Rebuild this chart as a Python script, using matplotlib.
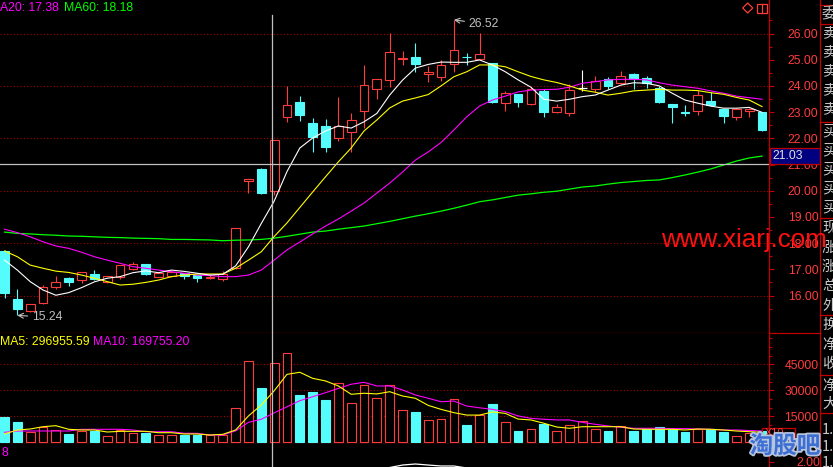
import numpy as np
import matplotlib
matplotlib.use("Agg")
import matplotlib.pyplot as plt
import matplotlib.transforms as mtransforms
import matplotlib.patheffects as pe
from matplotlib import font_manager
from matplotlib.patches import Rectangle, Polygon
from matplotlib.lines import Line2D
from matplotlib.ticker import FixedLocator, FormatStrFormatter

# ---------------- data ----------------
opens = [17.71, 15.86, 15.42, 15.70, 16.32, 16.68, 16.59, 16.82, 16.50, 16.72,
         17.00, 17.19, 16.72, 16.74, 16.85, 16.78, 16.66, 16.64, 17.04, 20.36,
         20.83, 20.00, 22.82, 23.39, 22.57, 22.47, 22.00, 22.25, 23.05, 23.87,
         24.21, 25.03, 25.10, 24.44, 24.33, 24.82, 25.12, 25.03, 24.86, 23.34,
         23.68, 23.30, 23.81, 22.99, 22.98, 23.93, 23.87, 24.28, 24.10, 24.45,
         24.31, 23.93, 23.30, 23.02, 23.04, 23.42, 23.13, 22.80, 23.05, 22.99]
highs = [17.75, 16.25, 15.68, 16.39, 16.74, 16.70, 16.90, 16.97, 16.75, 17.17,
         17.28, 17.22, 16.90, 16.97, 16.87, 16.80, 16.80, 16.92, 18.58, 20.46,
         20.85, 21.95, 24.00, 23.61, 22.79, 22.74, 23.59, 22.98, 24.80, 24.27,
         26.01, 25.33, 25.63, 24.76, 24.99, 26.52, 25.27, 26.01, 24.88, 23.82,
         23.70, 23.95, 23.87, 23.31, 24.06, 24.61, 24.38, 24.34, 24.57, 24.50,
         24.37, 24.01, 23.30, 23.27, 23.84, 23.78, 23.15, 23.14, 23.14, 23.00]
lows = [15.89, 15.24, 15.38, 15.68, 16.24, 16.36, 16.49, 16.60, 16.48, 16.63,
        16.96, 16.79, 16.70, 16.72, 16.62, 16.53, 16.62, 16.57, 17.02, 19.90,
        19.86, 19.84, 22.63, 22.67, 21.49, 21.49, 21.91, 21.49, 22.38, 23.49,
        23.95, 24.80, 24.54, 24.16, 24.19, 24.54, 24.80, 25.00, 23.34, 23.05,
        23.21, 23.28, 22.82, 22.95, 22.86, 23.82, 23.76, 23.87, 24.06, 23.87,
        23.93, 23.34, 22.60, 22.85, 22.89, 23.24, 22.60, 22.70, 22.80, 22.29]
closes = [16.11, 15.50, 15.66, 16.31, 16.50, 16.53, 16.88, 16.63, 16.73, 17.15,
          17.19, 16.81, 16.85, 16.88, 16.74, 16.68, 16.72, 16.81, 18.56, 20.44,
          19.92, 21.92, 23.26, 22.89, 22.06, 21.68, 22.47, 22.70, 24.03, 24.25,
          25.28, 25.07, 24.82, 24.54, 24.79, 25.36, 25.10, 25.21, 23.40, 23.72,
          23.37, 23.87, 23.02, 23.18, 23.84, 23.93, 24.19, 24.01, 24.37, 24.26,
          24.12, 23.40, 23.21, 22.95, 23.66, 23.26, 22.86, 23.12, 23.13, 22.33]

ma5 = [17.35, 16.97, 16.53, 16.21, 16.01, 16.11, 16.30, 16.52, 16.66, 16.72,
       16.87, 16.94, 16.87, 16.97, 16.92, 16.85, 16.78, 16.81, 17.13, 17.86,
       18.75, 19.60, 20.73, 21.63, 22.01, 22.28, 22.47, 22.39, 22.63, 22.95,
       23.65, 24.22, 24.68, 24.82, 24.91, 24.90, 24.90, 24.99, 24.80, 24.54,
       24.23, 23.95, 23.49, 23.42, 23.49, 23.59, 23.65, 23.84, 24.03, 24.12,
       24.10, 24.00, 23.72, 23.46, 23.34, 23.23, 23.15, 23.15, 23.18, 22.99]
ma10 = [17.70, 17.48, 17.16, 17.04, 16.93, 16.88, 16.78, 16.66, 16.53, 16.40,
        16.43, 16.50, 16.59, 16.72, 16.78, 16.82, 16.82, 16.82, 17.04, 17.35,
        17.67, 18.25, 18.77, 19.36, 19.95, 20.53, 21.10, 21.63, 22.28, 22.70,
        23.16, 23.42, 23.54, 23.67, 24.00, 24.35, 24.54, 24.80, 24.80, 24.73,
        24.54, 24.36, 24.23, 24.13, 24.00, 23.84, 23.76, 23.65, 23.72, 23.81,
        23.84, 23.87, 23.84, 23.84, 23.82, 23.74, 23.68, 23.56, 23.46, 23.21]
ma20 = [18.53, 18.40, 18.24, 18.05, 17.89, 17.80, 17.65, 17.48, 17.35, 17.23,
        17.10, 17.04, 16.97, 16.91, 16.85, 16.78, 16.76, 16.72, 16.72, 16.78,
        16.97, 17.35, 17.74, 18.04, 18.35, 18.65, 18.92, 19.22, 19.53, 19.91,
        20.29, 20.71, 21.17, 21.48, 21.84, 22.32, 22.82, 23.23, 23.46, 23.61,
        23.77, 23.84, 23.86, 23.87, 23.95, 24.10, 24.16, 24.23, 24.25, 24.25,
        24.23, 24.12, 24.03, 23.97, 23.91, 23.81, 23.72, 23.61, 23.55, 23.49]
ma60 = [18.42, 18.37, 18.35, 18.32, 18.30, 18.27, 18.26, 18.24, 18.22, 18.21,
        18.19, 18.18, 18.17, 18.14, 18.14, 18.13, 18.12, 18.09, 18.11, 18.12,
        18.14, 18.19, 18.26, 18.34, 18.42, 18.46, 18.53, 18.59, 18.65, 18.74,
        18.83, 18.93, 19.03, 19.12, 19.22, 19.33, 19.45, 19.58, 19.65, 19.74,
        19.83, 19.88, 19.94, 19.98, 20.06, 20.14, 20.18, 20.25, 20.31, 20.35,
        20.39, 20.41, 20.50, 20.60, 20.71, 20.83, 20.98, 21.13, 21.25, 21.32]

volumes = [14600, 11700, 5940, 8830, 6920, 4790, 6520, 6710, 3630, 7300,
           5370, 5370, 4040, 4040, 4420, 4420, 4040, 4040, 19800, 46900,
           31300, 45700, 51500, 27300, 29000, 24400, 34000, 22500, 32900, 25400,
           32900, 18500, 17500, 12700, 13300, 24800, 10000, 15600, 22100, 11500,
           6520, 7500, 10600, 6340, 10000, 12300, 7670, 6520, 9230, 6520,
           7500, 9000, 7670, 6120, 7500, 7500, 6120, 3810, 5540, 6710]
vol_ma5 = [4790, 7100, 7670, 9000, 9580, 7500, 7100, 7100, 5940, 6330,
           6330, 6330, 5540, 5540, 4790, 4790, 4210, 4600, 7100, 15200,
           21500, 29700, 39200, 40400, 36900, 35400, 32500, 27700, 28300, 27900,
           29200, 26700, 25400, 21300, 19000, 17100, 15700, 15700, 17500, 16700,
           13400, 12900, 11000, 8830, 8080, 9000, 9000, 9000, 9000, 7670,
           7500, 7500, 7500, 7100, 7670, 7500, 7100, 6520, 6120, 5770]
vol_ma10 = [5770, 6520, 6520, 6520, 6520, 6520, 7500, 7500, 7500, 7500,
            7100, 6120, 6120, 6120, 5190, 5190, 4210, 4210, 6600, 11500,
            13300, 16975, 20500, 24000, 26300, 28600, 31100, 33500, 34600, 32500,
            32500, 30200, 27300, 25400, 23400, 23800, 20900, 19900, 19000, 17700,
            15200, 13800, 13300, 12900, 12900, 11500, 10400, 9400, 8650, 8080,
            8080, 8080, 7900, 7900, 7670, 7500, 7100, 7100, 6800, 6520]

ind_idx = [30, 31, 32, 33, 34, 35, 36]
ind_vals = [1.31, 1.62, 1.75, 1.62, 1.50, 1.50, 1.25]

price_ticks = [16, 17, 18, 19, 20, 21, 22, 23, 24, 25, 26]
price_grid = [16, 18, 20, 22, 24, 26]
vol_ticks = [15000, 30000, 45000]
ind_ticks = [2.0]

cross_idx = 21
cross_price = 21.03
high_idx, high_val = 35, 26.52
low_idx, low_val = 1, 15.24

title_price = [("A20: 17.38", "#ff00ff"), ("MA60: 18.18", "#00ff00")]
title_vol = [("MA5: 296955.59", "#ffff00"), ("MA10: 169755.20", "#ff00ff")]
side_chars = ["委", "卖", "卖", "卖", "卖", "卖", "买", "买", "买", "买", "买",
              "现", "涨", "涨", "总", "外", "换", "净", "收", "净", "大",
              "1.", "1.", "1."]

# ---------------- style ----------------
W, H = 833, 467
AX_RIGHT = 769
BG = "black"
RED = "#ff3c3c"
CYAN = "#54fcfc"
AXRED = "#c00000"
GRIDRED = "#a80000"
GRAY = "#c0c0c0"

names = {f.name for f in font_manager.fontManager.ttflist}
lab_font = "Liberation Sans Narrow" if "Liberation Sans Narrow" in names else "Liberation Sans"
narrow = lab_font == "Liberation Sans Narrow"
plt.rcParams["font.family"] = [lab_font, "Noto Sans CJK SC", "DejaVu Sans"]
LAB = 9.9 if narrow else 8.8

fig = plt.figure(figsize=(W / 100, H / 100), dpi=100, facecolor=BG)
px = mtransforms.Affine2D().scale(1 / W, -1 / H).translate(0, 1) + fig.transFigure


def rows(top, bottom):
    return [0, 1 - bottom / H, AX_RIGHT / W, (bottom - top) / H]


ax_p = fig.add_axes(rows(0, 333.3))
ax_v = fig.add_axes(rows(333.3, 443.7))
ax_b = fig.add_axes(rows(443.7, 467))

step = 12.84
xlim = (-4.5 / step, (AX_RIGHT - 4.5) / step)
for ax in (ax_p, ax_v, ax_b):
    ax.set_facecolor(BG)
    ax.set_xlim(*xlim)
    ax.set_xticks([])
    ax.spines["left"].set_visible(False)
    ax.spines["top"].set_visible(False)
    ax.spines["right"].set_color(AXRED)
    ax.spines["bottom"].set_color(AXRED)
    ax.spines["right"].set_linewidth(0.9)
    ax.spines["bottom"].set_linewidth(0.9)
    ax.yaxis.tick_right()
    ax.tick_params(axis="y", which="both", colors=AXRED, labelcolor=RED,
                   direction="out", width=0.8, labelsize=LAB)
    ax.tick_params(axis="y", which="major", length=3.6)
    ax.tick_params(axis="y", which="minor", length=2.2)
ax_b.spines["bottom"].set_visible(False)

# price panel
ax_p.set_ylim(26 - 299.8 / 26.2, 26 + 33.5 / 26.2)
ax_p.yaxis.set_major_locator(FixedLocator(price_ticks))
ax_p.yaxis.set_minor_locator(FixedLocator(np.arange(15.5, 27.0, 1.0)))
ax_p.yaxis.set_major_formatter(FormatStrFormatter("%.2f"))
ax_p.tick_params(axis="y", which="major", pad=9.9)
for g in price_grid:
    ax_p.axhline(g, color=GRIDRED, lw=0.8, ls=(0, (1, 2)), zorder=1)

x = np.arange(len(closes))
bw = 0.68
for i in x:
    o, h, l, c = opens[i], highs[i], lows[i], closes[i]
    if c > o:
        col, face = RED, BG
    elif c < o:
        col, face = CYAN, CYAN
    else:
        col, face = "white", None
    ax_p.vlines(i, l, h, color=col, lw=0.8, zorder=3)
    if face is None:
        ax_p.hlines(o, i - bw / 2, i + bw / 2, color=col, lw=0.9, zorder=4)
    else:
        ax_p.add_patch(Rectangle((i - bw / 2, min(o, c)), bw, abs(c - o),
                                 facecolor=face, edgecolor=col, lw=0.8, zorder=4))

ax_p.plot(x, ma60, color="#00ff00", lw=0.9, zorder=5)
ax_p.plot(x, ma20, color="#ff00ff", lw=0.8, zorder=5)
ax_p.plot(x, ma10, color="#ffff00", lw=0.8, zorder=5)
ax_p.plot(x, ma5, color="white", lw=0.8, zorder=5)

ax_p.annotate(f"{high_val:.2f}", xy=(high_idx, high_val), xytext=(10.6, -2.9),
              textcoords="offset points", ha="left", va="center", color=GRAY,
              fontsize=LAB, arrowprops=dict(arrowstyle="->", color=GRAY, lw=0.8,
                                            shrinkA=1, shrinkB=0), zorder=6)
ax_p.annotate(f"{low_val:.2f}", xy=(low_idx, low_val), xytext=(10.4, -1.2),
              textcoords="offset points", ha="left", va="center", color=GRAY,
              fontsize=LAB, arrowprops=dict(arrowstyle="->", color=GRAY, lw=0.8,
                                            shrinkA=1, shrinkB=0), zorder=6)

# crosshair
cx = cross_idx - 0.13
ax_p.axhline(cross_price, color=GRAY, lw=0.9, zorder=7)
ax_p.axvline(cx, ymax=(333.3 - 15) / 333.3, color=GRAY, lw=0.9, zorder=7)
ax_v.axvline(cx, color=GRAY, lw=0.9, zorder=7)
ax_b.axvline(cx, color=GRAY, lw=0.9, zorder=7)

# volume panel
ax_v.set_ylim((442.3 - 443.7) * 15000 / 26, (442.3 - 333.3) * 15000 / 26)
ax_v.yaxis.set_major_locator(FixedLocator(vol_ticks))
ax_v.yaxis.set_minor_locator(FixedLocator([5000, 10000, 20000, 25000, 35000,
                                           40000, 50000, 55000, 60000]))
ax_v.yaxis.set_major_formatter(FormatStrFormatter("%d"))
ax_v.tick_params(axis="y", which="major", pad=7.4)
for g in vol_ticks:
    ax_v.axhline(g, color=GRIDRED, lw=0.8, ls=(0, (1, 2)), zorder=1)
up = [c >= o for o, c in zip(opens, closes)]
ax_v.bar(x, volumes, width=bw,
         color=[BG if u else CYAN for u in up],
         edgecolor=[RED if u else CYAN for u in up], lw=0.8, zorder=3)
ax_v.plot(x, vol_ma10, color="#ff00ff", lw=0.8, zorder=5)
ax_v.plot(x, vol_ma5, color="#ffff00", lw=0.8, zorder=5)

# bottom indicator strip
ax_b.set_ylim(2 - 5 / 8, 2 + 18.3 / 8)
ax_b.yaxis.set_major_locator(FixedLocator(ind_ticks))
ax_b.yaxis.set_minor_locator(FixedLocator([]))
ax_b.yaxis.set_major_formatter(FormatStrFormatter("%.2f"))
ax_b.tick_params(axis="y", which="major", pad=16.3)
ax_b.plot(ind_idx, ind_vals, color="white", lw=0.9, zorder=4)

# ---------------- texts and frame decorations (pixel coords) ----------------
def ftext(xp, yp, s, **kw):
    kw.setdefault("fontsize", LAB)
    kw.setdefault("va", "center")
    return fig.text(xp, yp, s, transform=px, **kw)


def fline(xs, ys, **kw):
    kw.setdefault("color", AXRED)
    kw.setdefault("lw", 0.9)
    fig.add_artist(Line2D(xs, ys, transform=px, **kw))


ftext(0, 8, title_price[0][0], color=title_price[0][1])
ftext(63.7, 8, title_price[1][0], color=title_price[1][1])
ftext(0, 341.7, title_vol[0][0], color=title_vol[0][1])
ftext(93, 341.7, title_vol[1][0], color=title_vol[1][1])
ftext(2, 452.7, "8", color="#ff00ff")

# crosshair price box
fig.add_artist(Rectangle((770, 148), 50, 15.5, transform=px,
                         facecolor="#000080", edgecolor=AXRED, lw=0.9))
ftext(772, 156, f"{cross_price:.2f}", color="#e0e0e0")

# X10 box
fig.add_artist(Rectangle((762.3, 427.7), 32.7, 10.6, transform=px,
                         facecolor="none", edgecolor=AXRED, lw=0.9))
ftext(764.5, 433, "X10", color=RED, fontsize=LAB - 1)

# icons top right
fig.add_artist(Polygon([(742.6, 8), (747.7, 3), (752.8, 8), (747.7, 13)],
                       closed=True, transform=px, facecolor="none",
                       edgecolor=RED, lw=0.9))
fig.add_artist(Rectangle((757.3, 3.5), 9.4, 9.5, transform=px,
                         facecolor="none", edgecolor=RED, lw=0.9))
fline([762, 762], [3.5, 13], color=RED)

# side strip frame
fline([820, 820], [0, H])
fline([AX_RIGHT, 820], [333.3, 333.3])
for yy in [4.7, 24, 121.7, 218.3, 315, 375, 413.3]:
    fline([820, W], [yy, yy])
side_y = [14.3, 33.5, 52.5, 71.5, 90.5, 109.5, 131, 150, 169, 188, 207,
          228, 247.4, 266.8, 286.2, 305.6, 325, 345, 364, 386, 404, 430, 447, 463]
for ch, yy in zip(side_chars, side_y):
    ftext(822, yy, ch, color="#c8c8c8", fontsize=10.5,
          family=["Noto Sans CJK SC", "DejaVu Sans"])

# watermark and logo
fig.text(661, 247.3, "www.xiarj.com", transform=px, color="#ff1010",
         fontsize=22.5 if narrow else 18.7, va="baseline", ha="left",
         family=[lab_font, "DejaVu Sans"])
fig.text(785, 446, "淘股吧", transform=px, ha="center", va="center",
         fontsize=17, fontweight="bold", color="#3b6fd4",
         family=["Noto Sans CJK SC", "DejaVu Sans"],
         path_effects=[pe.withStroke(linewidth=2.5, foreground="#b8c4dc")])

fig.savefig("out.png", dpi=100, facecolor=BG)
